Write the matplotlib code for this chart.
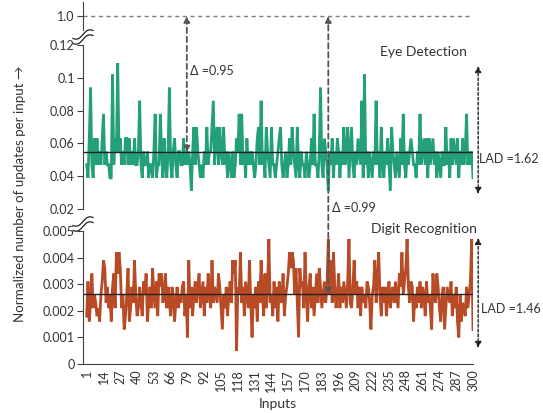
import matplotlib
matplotlib.use('Agg')
import matplotlib.pyplot as plt
from matplotlib.lines import Line2D
import numpy as np

# ---------------- data ----------------
inputs = list(range(1, 301))
xtick_vals = list(range(1, 301, 13))

eye = [
    0.047, 0.039, 0.063, 0.094, 0.047, 0.039, 0.063, 0.047, 0.063, 0.047, 0.055, 0.047, 0.063, 0.078, 0.047, 0.055, 0.047, 0.047, 0.039, 0.039,
    0.102, 0.047, 0.063, 0.055, 0.109, 0.055, 0.063, 0.047, 0.055, 0.047, 0.063, 0.063, 0.047, 0.063, 0.047, 0.055, 0.047, 0.063, 0.047, 0.047,
    0.055, 0.086, 0.047, 0.039, 0.055, 0.047, 0.047, 0.055, 0.039, 0.047, 0.047, 0.039, 0.055, 0.078, 0.039, 0.047, 0.047, 0.078, 0.055, 0.039,
    0.063, 0.047, 0.039, 0.055, 0.094, 0.047, 0.039, 0.055, 0.063, 0.047, 0.039, 0.055, 0.055, 0.047, 0.047, 0.063, 0.047, 0.055, 0.047, 0.055,
    0.047, 0.031, 0.055, 0.070, 0.047, 0.070, 0.055, 0.047, 0.039, 0.047, 0.039, 0.055, 0.047, 0.070, 0.047, 0.055, 0.055, 0.070, 0.086, 0.047,
    0.063, 0.070, 0.047, 0.070, 0.055, 0.047, 0.070, 0.047, 0.055, 0.039, 0.055, 0.047, 0.039, 0.055, 0.039, 0.047, 0.063, 0.055, 0.078, 0.047,
    0.078, 0.047, 0.055, 0.039, 0.063, 0.047, 0.055, 0.047, 0.055, 0.047, 0.039, 0.047, 0.063, 0.070, 0.047, 0.086, 0.047, 0.055, 0.039, 0.070,
    0.055, 0.047, 0.039, 0.070, 0.047, 0.047, 0.039, 0.047, 0.055, 0.063, 0.070, 0.047, 0.039, 0.047, 0.055, 0.039, 0.047, 0.063, 0.047, 0.070,
    0.055, 0.047, 0.039, 0.070, 0.047, 0.039, 0.055, 0.047, 0.047, 0.039, 0.055, 0.047, 0.039, 0.047, 0.063, 0.047, 0.078, 0.047, 0.047, 0.039,
    0.055, 0.094, 0.047, 0.039, 0.063, 0.055, 0.047, 0.031, 0.055, 0.047, 0.063, 0.039, 0.055, 0.047, 0.063, 0.055, 0.039, 0.055, 0.047, 0.070,
    0.047, 0.055, 0.070, 0.039, 0.055, 0.070, 0.047, 0.039, 0.055, 0.047, 0.063, 0.055, 0.047, 0.086, 0.039, 0.102, 0.047, 0.055, 0.039, 0.055,
    0.047, 0.039, 0.055, 0.047, 0.086, 0.047, 0.055, 0.039, 0.070, 0.047, 0.039, 0.055, 0.047, 0.063, 0.047, 0.031, 0.070, 0.055, 0.047, 0.039,
    0.055, 0.047, 0.039, 0.063, 0.047, 0.078, 0.047, 0.039, 0.055, 0.047, 0.055, 0.063, 0.055, 0.047, 0.047, 0.039, 0.055, 0.047, 0.078, 0.047,
    0.055, 0.063, 0.047, 0.063, 0.039, 0.063, 0.047, 0.055, 0.063, 0.047, 0.055, 0.039, 0.055, 0.047, 0.039, 0.055, 0.047, 0.047, 0.070, 0.047,
    0.055, 0.039, 0.063, 0.047, 0.063, 0.055, 0.047, 0.063, 0.039, 0.055, 0.047, 0.063, 0.047, 0.055, 0.078, 0.047, 0.055, 0.047, 0.055, 0.039,
]

digit = [
    0.0018, 0.0031, 0.0016, 0.0023, 0.0034, 0.0021, 0.0026, 0.0023, 0.0018, 0.0021, 0.0016, 0.0026, 0.0031, 0.0039, 0.0036, 0.0023, 0.0029, 0.0021, 0.0026, 0.0016,
    0.0029, 0.0034, 0.0021, 0.0042, 0.0034, 0.0042, 0.0036, 0.0021, 0.0026, 0.0013, 0.0018, 0.0026, 0.0036, 0.0016, 0.0021, 0.0029, 0.0023, 0.0039, 0.0026, 0.0018,
    0.0021, 0.0029, 0.0023, 0.0018, 0.0031, 0.0026, 0.0034, 0.0016, 0.0023, 0.0029, 0.0021, 0.0036, 0.0026, 0.0021, 0.0031, 0.0018, 0.0034, 0.0029, 0.0034, 0.0023,
    0.0026, 0.0034, 0.0021, 0.0029, 0.0023, 0.0018, 0.0029, 0.0026, 0.0016, 0.0023, 0.0029, 0.0021, 0.0026, 0.0023, 0.0029, 0.0031, 0.0018, 0.0026, 0.0010, 0.0039,
    0.0021, 0.0029, 0.0018, 0.0026, 0.0031, 0.0023, 0.0029, 0.0034, 0.0021, 0.0026, 0.0031, 0.0018, 0.0029, 0.0023, 0.0034, 0.0026, 0.0021, 0.0039, 0.0023, 0.0029,
    0.0026, 0.0023, 0.0034, 0.0029, 0.0021, 0.0013, 0.0026, 0.0021, 0.0029, 0.0018, 0.0026, 0.0031, 0.0023, 0.0039, 0.0034, 0.0039, 0.0005, 0.0029, 0.0026, 0.0042,
    0.0023, 0.0029, 0.0018, 0.0031, 0.0026, 0.0021, 0.0039, 0.0023, 0.0010, 0.0026, 0.0021, 0.0029, 0.0016, 0.0031, 0.0023, 0.0039, 0.0026, 0.0018, 0.0034, 0.0021,
    0.0029, 0.0047, 0.0023, 0.0026, 0.0018, 0.0031, 0.0021, 0.0029, 0.0016, 0.0031, 0.0026, 0.0023, 0.0034, 0.0018, 0.0026, 0.0029, 0.0034, 0.0042, 0.0036, 0.0042,
    0.0039, 0.0026, 0.0036, 0.0023, 0.0010, 0.0036, 0.0029, 0.0031, 0.0021, 0.0042, 0.0026, 0.0016, 0.0029, 0.0034, 0.0021, 0.0029, 0.0018, 0.0026, 0.0034, 0.0023,
    0.0036, 0.0029, 0.0021, 0.0026, 0.0031, 0.0023, 0.0029, 0.0047, 0.0026, 0.0039, 0.0023, 0.0042, 0.0029, 0.0021, 0.0026, 0.0034, 0.0021, 0.0029, 0.0023, 0.0031,
    0.0026, 0.0021, 0.0031, 0.0047, 0.0023, 0.0021, 0.0029, 0.0039, 0.0026, 0.0031, 0.0021, 0.0029, 0.0018, 0.0029, 0.0023, 0.0026, 0.0021, 0.0031, 0.0029, 0.0023,
    0.0013, 0.0026, 0.0029, 0.0039, 0.0023, 0.0031, 0.0042, 0.0026, 0.0018, 0.0029, 0.0023, 0.0029, 0.0018, 0.0026, 0.0031, 0.0021, 0.0026, 0.0029, 0.0023, 0.0031,
    0.0026, 0.0021, 0.0034, 0.0029, 0.0042, 0.0026, 0.0031, 0.0036, 0.0047, 0.0029, 0.0023, 0.0031, 0.0029, 0.0016, 0.0026, 0.0021, 0.0029, 0.0023, 0.0031, 0.0021,
    0.0029, 0.0026, 0.0018, 0.0031, 0.0023, 0.0026, 0.0021, 0.0013, 0.0034, 0.0026, 0.0023, 0.0034, 0.0029, 0.0021, 0.0016, 0.0026, 0.0029, 0.0013, 0.0021, 0.0029,
    0.0026, 0.0023, 0.0031, 0.0018, 0.0026, 0.0021, 0.0029, 0.0016, 0.0010, 0.0026, 0.0016, 0.0023, 0.0021, 0.0018, 0.0029, 0.0021, 0.0026, 0.0031, 0.0047, 0.0013,
]

eye_avg = 0.0545
digit_avg = 0.00262
top_level = 1.0

mid_ticks = [0.02, 0.04, 0.06, 0.08, 0.1, 0.12]
mid_labels = ['0.02', '0.04', '0.06', '0.08', '0.1', '0.12']
bot_ticks = [0, 0.001, 0.002, 0.003, 0.004, 0.005]
bot_labels = ['0', '0.001', '0.002', '0.003', '0.004', '0.005']

delta_eye_x, delta_eye_label = 78.5, 'Δ =0.95'
delta_digit_x, delta_digit_label = 188, 'Δ =0.99'
lad_x = 304
lad_eye = (0.1072, 0.0291, 'LAD =1.62')
lad_digit = (0.00474, 0.0006, 'LAD =1.46')

# ---------------- style ----------------
GREEN = '#23a07a'
ORANGE = '#b84a26'
TXT = '#333333'
AX = '#404040'
GREY = '#7f7f7f'
plt.rcParams['font.family'] = ['Lato', 'DejaVu Sans']

W, H = 543, 413
fig = plt.figure(figsize=(W / 100, H / 100), dpi=100)


def rect(top, bottom, left=83, right=473):
    return [left / W, 1 - bottom / H, (right - left) / W, (bottom - top) / H]


def fpx(x, y):
    return (x / W, 1 - y / H)


ax_top = fig.add_axes(rect(2, 30))
ax_mid = fig.add_axes(rect(45, 209))
ax_bot = fig.add_axes(rect(231, 364))

XLIM = (-1.86, 300)
for ax in (ax_top, ax_mid, ax_bot):
    ax.set_facecolor('none')
    ax.set_xlim(*XLIM)
    for s in ('top', 'right'):
        ax.spines[s].set_visible(False)
    ax.spines['left'].set_color(AX)
    ax.spines['bottom'].set_color(AX)
    ax.tick_params(axis='y', direction='out', length=4, width=0.8, color=AX,
                   labelsize=9, labelcolor=TXT, pad=2)

# top section
ax_top.set_ylim(0.985, 1.015)
ax_top.spines['bottom'].set_visible(False)
ax_top.set_xticks([])
ax_top.set_yticks([top_level])
ax_top.set_yticklabels(['1.0'])
ax_top.axhline(top_level, color=GREY, lw=1, ls=(0, (3, 2.5)))

# middle section
ax_mid.set_ylim(0.02, 0.12)
ax_mid.spines['bottom'].set_visible(False)
ax_mid.set_xticks([])
ax_mid.set_yticks(mid_ticks)
ax_mid.set_yticklabels(mid_labels)
ax_mid.plot(inputs, eye, color=GREEN, lw=2.0, solid_joinstyle='miter')
ax_mid.axhline(eye_avg, color='#222222', lw=1.0)
ax_mid.text(380 / W, 1 - 52 / H, 'Eye Detection', transform=fig.transFigure,
            fontsize=10, color=TXT, va='center', ha='left')

# bottom section
ax_bot.set_ylim(0, 0.005)
ax_bot.set_yticks(bot_ticks)
ax_bot.set_yticklabels(bot_labels)
ax_bot.set_xticks(xtick_vals)
ax_bot.set_xticklabels([str(v) for v in xtick_vals], rotation=90)
ax_bot.tick_params(axis='x', length=0, labelsize=9, labelcolor=TXT, pad=4)
ax_bot.plot(inputs, digit, color=ORANGE, lw=2.0, solid_joinstyle='miter')
ax_bot.axhline(digit_avg, color='#222222', lw=1.0)
ax_bot.text(371 / W, 1 - 229 / H, 'Digit Recognition', transform=fig.transFigure,
            fontsize=10, color=TXT, va='center', ha='left')

# delta arrows
arr = dict(arrowstyle='<|-|>', color='#555555', lw=1.3, ls=(0, (3, 2)),
           shrinkA=0, shrinkB=0, mutation_scale=9)
ax_mid.annotate('', xy=(delta_eye_x, top_level), xycoords=ax_top.transData,
                xytext=(delta_eye_x, eye_avg), textcoords=ax_mid.transData,
                arrowprops=arr, annotation_clip=False)
ax_bot.annotate('', xy=(delta_digit_x, top_level), xycoords=ax_top.transData,
                xytext=(delta_digit_x, digit_avg), textcoords=ax_bot.transData,
                arrowprops=arr, annotation_clip=False)
fig.text(*fpx(190, 71), delta_eye_label, fontsize=9, color=TXT, va='center')
fig.text(*fpx(332, 208), delta_digit_label, fontsize=9, color=TXT, va='center')

# LAD arrows
lad = dict(arrowstyle='<|-|>', color='#222222', lw=1.0, ls=(0, (2, 1.5)),
           shrinkA=0, shrinkB=0, mutation_scale=9)
ax_mid.annotate('', xy=(lad_x, lad_eye[0]), xytext=(lad_x, lad_eye[1]),
                arrowprops=lad, annotation_clip=False)
ax_bot.annotate('', xy=(lad_x, lad_digit[0]), xytext=(lad_x, lad_digit[1]),
                arrowprops=lad, annotation_clip=False)
fig.text(*fpx(479, 159), lad_eye[2], fontsize=9, color=TXT, va='center')
fig.text(*fpx(481, 309), lad_digit[2], fontsize=9, color=TXT, va='center')


# axis break marks
def break_mark(cy):
    t = np.linspace(0, 1, 60)
    xs = 73 + 20 * t
    base = cy + 4 - 8 * t
    wave = 2.3 * np.sin(2 * np.pi * t)
    ya = base - 2.5 + wave
    yb = base + 2.5 + wave
    fx = xs / W
    fig.patches.append(plt.Polygon(
        np.column_stack([np.r_[fx, fx[::-1]], np.r_[1 - ya / H, (1 - yb / H)[::-1]]]),
        closed=True, transform=fig.transFigure, facecolor='white', edgecolor='none', zorder=5))
    for yy in (ya, yb):
        fig.add_artist(Line2D(fx, 1 - yy / H, color='#222222', lw=0.9, zorder=6))


break_mark(37)
break_mark(224)

fig.text(*fpx(20, 194), 'Normalized number of updates per input →', rotation=90,
         fontsize=9.6, color=TXT, ha='center', va='center')
fig.text(*fpx(278, 404), 'Inputs', fontsize=10, color=TXT, ha='center', va='center')

fig.savefig('out.png', dpi=100)
